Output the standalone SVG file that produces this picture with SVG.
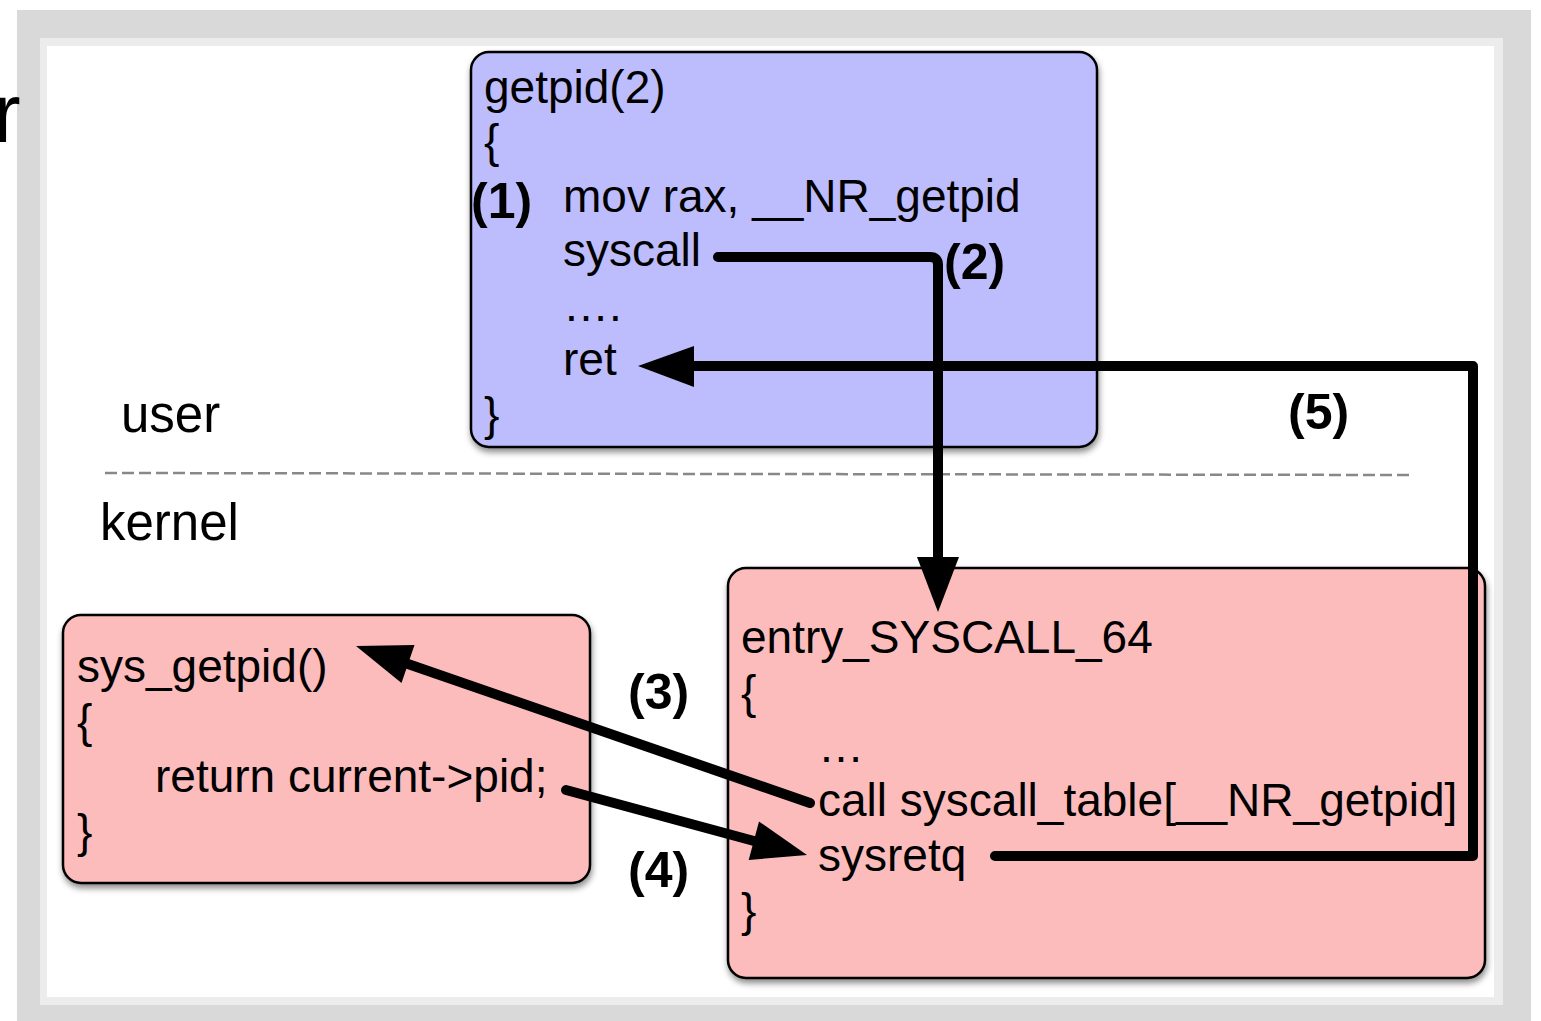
<svg xmlns="http://www.w3.org/2000/svg" width="1541" height="1021" viewBox="0 0 1541 1021">
  <defs>
    <filter id="shadow" x="-5%" y="-5%" width="112%" height="115%">
      <feDropShadow dx="1" dy="4" stdDeviation="3" flood-color="#000" flood-opacity="0.45"/>
    </filter>
  </defs>
  <style>
    text { font-family: "Liberation Sans", Arial, sans-serif; fill: #000; }
    .code { font-size: 46px; }
    .zone { font-size: 51px; }
    .step { font-size: 50px; font-weight: bold; }
    .box { stroke: #000; stroke-width: 2.5; }
    .user { fill: #bdbcfc; }
    .kern { fill: #fdbcbc; }
    .wire { fill: none; stroke: #000; stroke-width: 10; stroke-linecap: round; stroke-linejoin: round; }
    .head { fill: #000; }
  </style>

  <!-- page frame -->
  <rect x="0" y="0" width="1541" height="1021" fill="#fff"/>
  <rect x="17" y="10" width="1514" height="1011" fill="#d9d9d9"/>
  <rect x="40" y="38" width="1463" height="967" fill="#ececec"/>
  <rect x="47" y="46" width="1447" height="951" fill="#fff"/>
  <text x="-7" y="142" style="font-size:83px" fill="#1a1a1a">r</text>

  <!-- privilege boundary -->
  <line x1="105" y1="473" x2="1410" y2="475" stroke="#888" stroke-width="2.5" stroke-dasharray="12 5"/>
  <text class="zone" x="121" y="432">user</text>
  <text class="zone" x="100" y="540">kernel</text>

  <!-- user-space wrapper -->
  <g id="getpid">
    <rect class="box user" x="471" y="52" width="626" height="395" rx="18" filter="url(#shadow)"/>
    <text class="code" x="484" y="103">getpid(2)</text>
    <text class="code" x="484" y="157">{</text>
    <text class="code" x="563" y="212">mov rax, __NR_getpid</text>
    <text class="code" x="563" y="266">syscall</text>
    <text class="code" x="563" y="321">….</text>
    <text class="code" x="563" y="375">ret</text>
    <text class="code" x="484" y="430">}</text>
  </g>

  <!-- kernel handler -->
  <g id="sys_getpid">
    <rect class="box kern" x="63" y="615" width="527" height="268" rx="18" filter="url(#shadow)"/>
    <text class="code" x="77" y="682">sys_getpid()</text>
    <text class="code" x="77" y="737">{</text>
    <text class="code" x="155" y="792">return current-&gt;pid;</text>
    <text class="code" x="77" y="847">}</text>
  </g>

  <!-- syscall entry point -->
  <g id="entry_SYSCALL_64">
    <rect class="box kern" x="728" y="568" width="757" height="410" rx="18" filter="url(#shadow)"/>
    <text class="code" x="741" y="653">entry_SYSCALL_64</text>
    <text class="code" x="741" y="708">{</text>
    <text class="code" x="818" y="762">…</text>
    <text class="code" x="818" y="816">call syscall_table[__NR_getpid]</text>
    <text class="code" x="818" y="871">sysretq</text>
    <text class="code" x="741" y="926">}</text>
  </g>

  <!-- control-flow arrows -->
  <g id="connectors">
    <!-- (2) syscall into the kernel -->
    <path class="wire" d="M718,257 H930 Q938,257 938,265 V560"/>
    <polygon class="head" points="917,557 959,557 938,612"/>
    <!-- (3) dispatch through the syscall table -->
    <path class="wire" d="M810,803 L408,664"/>
    <polygon class="head" points="356,646 414.5,645 401.5,683"/>
    <!-- (4) return to the entry code -->
    <path class="wire" d="M566,790 L754,841"/>
    <polygon class="head" points="807,855 759,821.4 748.7,860"/>
    <!-- (5) sysretq back to user space -->
    <path class="wire" d="M995,856 H1473 V366 H692"/>
    <polygon class="head" points="694,346 694,387 638,366"/>
  </g>

  <!-- step labels -->
  <text class="step" x="471" y="218">(1)</text>
  <text class="step" x="944" y="279">(2)</text>
  <text class="step" x="628" y="709">(3)</text>
  <text class="step" x="628" y="887">(4)</text>
  <text class="step" x="1288" y="429">(5)</text>
</svg>
